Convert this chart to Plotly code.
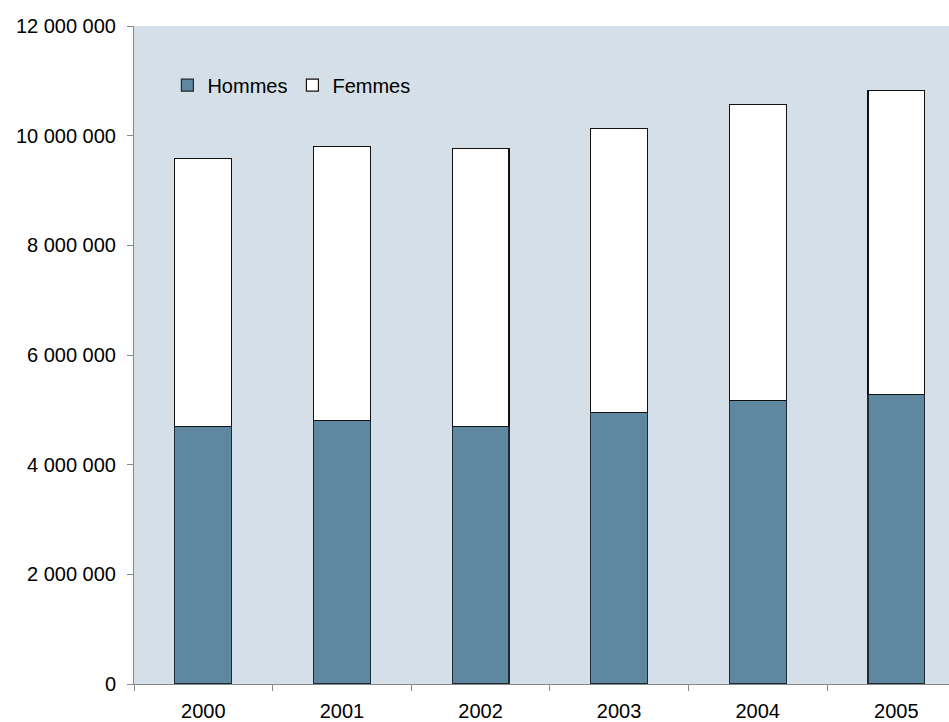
import plotly.graph_objects as go

years = ["2000", "2001", "2002", "2003", "2004", "2005"]
hommes = [4700000, 4810000, 4700000, 4950000, 5170000, 5280000]
femmes = [4880000, 4990000, 5070000, 5180000, 5400000, 5550000]
y_ticks = [0, 2000000, 4000000, 6000000, 8000000, 10000000, 12000000]

FONT = "Liberation Sans, Arial, sans-serif"

fig = go.Figure()
fig.add_trace(go.Bar(
    x=years, y=hommes, name="Hommes",
    marker=dict(color="#5F87A0", line=dict(color="#1B2A33", width=1.2)),
))
fig.add_trace(go.Bar(
    x=years, y=femmes, name="Femmes",
    marker=dict(color="#FFFFFF", line=dict(color="#111111", width=1.2)),
))

fig.update_layout(
    width=949, height=722,
    barmode="stack", bargap=0.59,
    paper_bgcolor="white", plot_bgcolor="#D5DFE7",
    margin=dict(l=134, r=0, t=26, b=38, autoexpand=False),
    separators=", ",
    font=dict(family=FONT, size=20, color="#000000"),
    showlegend=True,
    legend=dict(orientation="h", x=0.041, y=0.91, xanchor="left", yanchor="middle",
                bgcolor="rgba(0,0,0,0)", font=dict(size=20), traceorder="normal",
                itemwidth=30, tracegroupgap=0),
    xaxis=dict(
        type="category", range=[-0.5, 5.38], automargin=False,
        tickson="boundaries", ticks="outside", ticklen=6, tickcolor="#888888",
        showline=True, linecolor="#888888", linewidth=1, showgrid=False,
        tickfont=dict(size=20), ticklabelstandoff=9,
    ),
    yaxis=dict(
        range=[0, 12000000], tickvals=y_ticks, tickformat=",d", automargin=False,
        ticks="outside", ticklen=6, tickcolor="#888888",
        showline=True, linecolor="#888888", linewidth=1, showgrid=False,
        zeroline=False, tickfont=dict(size=20), ticklabelstandoff=7,
    ),
)

post = (
    "document.body.style.margin='0px';"
    "document.body.style.overflow='hidden';"
    "var gd=document.getElementById('{plot_id}');"
    "Plotly.relayout(gd,{width:949,height:722});"
)
fig.write_html("out.html", post_script=post, config={"displayModeBar": False})
